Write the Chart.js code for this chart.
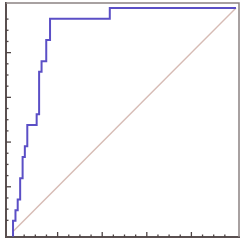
<!DOCTYPE html>
<html>
<head>
<meta charset="utf-8">
<script src="https://cdn.jsdelivr.net/npm/chart.js@4"></script>
<style>
  html, body { margin: 0; padding: 0; background: #fff; }
  #wrap { width: 243px; height: 242px; }
</style>
</head>
<body>
<div id="wrap"><canvas id="roc_chart"></canvas></div>
<script>
// ROC curve corners (false positive rate, true positive rate)
// the curve in the picture starts right on the bottom axis
let fpr = [0, 0, 0.011, 0.021, 0.032, 0.043, 0.053, 0.064, 0.106, 0.117, 0.128, 0.149, 0.166, 0.434, 1.0]
let tpr = [-0.022, 0.048, 0.095, 0.143, 0.238, 0.333, 0.381, 0.476, 0.524, 0.714, 0.762, 0.857, 0.952, 1.0, 1.0]
// chance line
let diag_x = [0, 1]
let diag_y = [0, 1]
// tick marks: minor every 0.05, major every 0.2
let minor_step = 0.05
let major_ticks = [0, 0.2, 0.4, 0.6, 0.8, 1.0]

let roc_points = fpr.map((x, i) => ({ x: x, y: tpr[i] }))
let diag_points = diag_x.map((x, i) => ({ x: x, y: diag_y[i] }))

// Draws the top/right frame and the inward tick marks from the scales
const frameTicks = {
  id: 'frameTicks',
  afterDraw(chart) {
    const ctx = chart.ctx
    const a = chart.chartArea
    const xs = chart.scales.x
    const ys = chart.scales.y
    ctx.save()
    ctx.strokeStyle = '#8c8282'
    ctx.lineWidth = 1.5
    ctx.beginPath()
    ctx.moveTo(a.left, a.top)
    ctx.lineTo(a.right, a.top)
    ctx.lineTo(a.right, a.bottom)
    ctx.stroke()

    ctx.strokeStyle = '#4e4444'
    ctx.lineWidth = 1.3
    const isMajor = v => major_ticks.some(m => Math.abs(m - v) < 1e-6)
    xs.ticks.forEach(t => {
      if (t.value < -1e-6 || t.value > 1 + 1e-6) return
      const px = xs.getPixelForValue(t.value)
      const len = isMajor(t.value) ? 5 : 2.5
      ctx.beginPath()
      ctx.moveTo(px, a.bottom)
      ctx.lineTo(px, a.bottom - len)
      ctx.stroke()
    })
    ys.ticks.forEach(t => {
      if (t.value < -1e-6 || t.value > 1 + 1e-6) return
      const py = ys.getPixelForValue(t.value)
      const len = isMajor(t.value) ? 5 : 2.5
      ctx.beginPath()
      ctx.moveTo(a.left, py)
      ctx.lineTo(a.left + len, py)
      ctx.stroke()
    })
    ctx.restore()
  }
}

let ctx = document.getElementById('roc_chart')
new Chart(ctx, {
  type: 'scatter',
  data: {
    datasets: [
      {
        label: 'ROC',
        data: roc_points,
        showLine: true,
        stepped: 'before',
        borderColor: '#5b4fc6',
        borderWidth: 2,
        pointRadius: 0,
        fill: false
      },
      {
        label: 'Chance',
        data: diag_points,
        showLine: true,
        borderColor: 'rgba(210, 180, 172, 0.9)',
        borderWidth: 1.4,
        pointRadius: 0,
        fill: false
      }
    ]
  },
  options: {
    responsive: true,
    maintainAspectRatio: false,
    animation: false,
    layout: { padding: { left: 6, top: 3, right: 4, bottom: 5 } },
    plugins: {
      legend: { display: false },
      tooltip: { enabled: false }
    },
    scales: {
      x: {
        min: -0.0315,
        max: 1.0135,
        ticks: { display: false, stepSize: minor_step },
        grid: { drawOnChartArea: false, drawTicks: false },
        border: { color: '#5a5050', width: 2 }
      },
      y: {
        min: -0.0246,
        max: 1.022,
        ticks: { display: false, stepSize: minor_step },
        grid: { drawOnChartArea: false, drawTicks: false },
        border: { color: '#5a5050', width: 2 }
      }
    }
  },
  plugins: [frameTicks]
})
</script>
</body>
</html>
